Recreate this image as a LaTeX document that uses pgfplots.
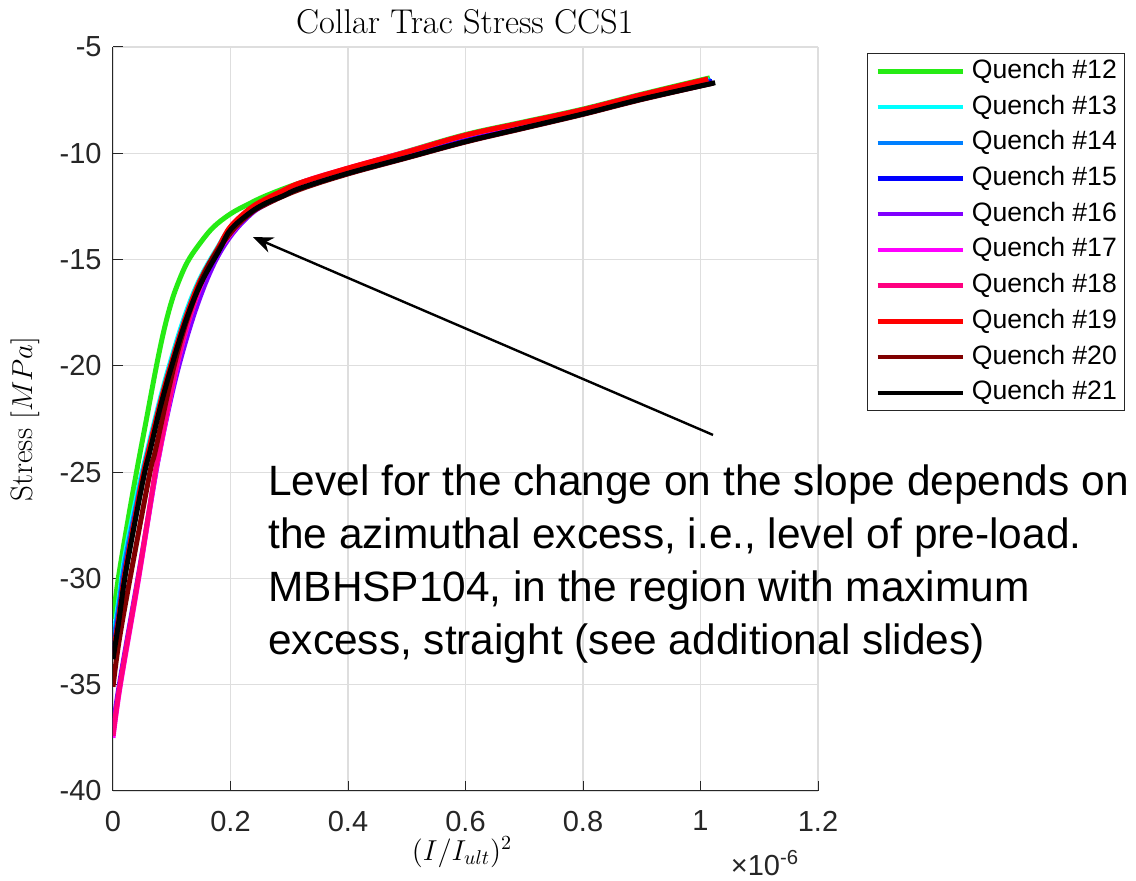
\documentclass[border=0pt]{standalone}
\usepackage{pgfplots}
\pgfplotsset{compat=1.18}
\usepackage{fontspec}
\usetikzlibrary{arrows.meta}
\newfontfamily\arial{Liberation Sans}

% quench colours
\definecolor{q12}{RGB}{38,235,20}
\definecolor{q13}{RGB}{0,255,255}
\definecolor{q14}{RGB}{0,128,255}
\definecolor{q15}{RGB}{0,0,255}
\definecolor{q16}{RGB}{128,0,255}
\definecolor{q17}{RGB}{255,0,255}
\definecolor{q18}{RGB}{255,0,128}
\definecolor{q19}{RGB}{255,0,0}
\definecolor{q20}{RGB}{128,0,0}
\definecolor{q21}{RGB}{0,0,0}

\begin{document}
\begin{tikzpicture}
\useasboundingbox (0,0) rectangle (568pt,440.5pt);
\begin{axis}[
  at={(56.5pt,45pt)}, anchor=south west,
  scale only axis, width=352.5pt, height=372pt,
  xmin=0, xmax=1.2, ymin=-40, ymax=-5,
  xtick={0,0.2,0.4,0.6,0.8,1,1.2},
  xticklabels={0,0.2,0.4,0.6,0.8,1,1.2},
  ytick={-40,-35,-30,-25,-20,-15,-10,-5},
  yticklabels={-40,-35,-30,-25,-20,-15,-10,-5},
  axis x line*=bottom, axis y line*=left,
  axis line style={draw=black!85, line width=0.5pt},
  tick align=inside, major tick length=5pt,
  tick style={draw=black!85, line width=0.5pt},
  grid=major, grid style={draw=black!13, line width=0.6pt},
  ticklabel style={font=\arial\fontsize{14.5}{17}\selectfont, text=black!85},
  xticklabel style={anchor=north, inner sep=0pt, yshift=-9.8pt},
  yticklabel style={anchor=east, inner sep=0pt, xshift=-5.5pt},
  title={Collar Trac Stress CCS1},
  every axis title/.style={at={(axis description cs:0.499,1.0336)}, anchor=center, font=\fontsize{17.2}{20}\selectfont},
  xlabel={$(I/I_{ult})^2$},
  xlabel style={at={(axis description cs:0.495,-0.082)}, anchor=center, font=\fontsize{14}{17}\selectfont},
  ylabel={Stress $[MPa]$},
  ylabel style={at={(axis description cs:-0.1248,0.5)}, anchor=center, font=\fontsize{15.5}{18}\selectfont},
  legend style={at={(1.0695,0.992)}, anchor=north west, draw=black!85, line width=0.5pt,
    fill=white, font=\arial\fontsize{13.3}{15}\selectfont, inner xsep=4pt, inner ysep=3pt,
    row sep=5.85pt, column sep=3.5pt,
    nodes={inner sep=0pt, text height=9.5pt, text depth=2.5pt}},
  legend cell align=left,
  legend image code/.code={\draw[#1, line width=2.2pt] (0pt,0pt) -- (42.5pt,0pt);},
  every axis plot/.append style={line width=2.5pt, smooth, tension=0.6},
]
% Quench #12
\addplot[q12] coordinates {(0,-31.9) (0.009,-30.0) (0.024,-27.5) (0.040,-25.0) (0.057,-22.5) (0.074,-20.0) (0.087,-18.3) (0.100,-16.95) (0.113,-15.95) (0.127,-15.1) (0.145,-14.35) (0.170,-13.5) (0.200,-12.85) (0.230,-12.4) (0.262,-11.98) (0.320,-11.38) (0.403,-10.72) (0.500,-9.92) (0.600,-9.12) (0.700,-8.52) (0.800,-7.92) (0.900,-7.22) (1.016,-6.45)};
\addlegendentry{Quench \#12}
% Quench #13
\addplot[q13] coordinates {(0,-32.9) (0.010,-31.0) (0.020,-29.0) (0.040,-26.2) (0.054,-24.5) (0.080,-21.6) (0.098,-19.8) (0.123,-17.6) (0.148,-15.9) (0.180,-14.35) (0.200,-13.5) (0.233,-12.65) (0.260,-12.2) (0.318,-11.45) (0.400,-10.75) (0.500,-10.0) (0.600,-9.2) (0.700,-8.6) (0.800,-8.0) (0.900,-7.3) (1.015,-6.55)};
\addlegendentry{Quench \#13}
% Quench #14
\addplot[q14] coordinates {(0,-33.2) (0.010,-31.3) (0.020,-29.3) (0.040,-26.5) (0.054,-24.7) (0.080,-21.8) (0.099,-19.9) (0.124,-17.7) (0.149,-16.0) (0.181,-14.4) (0.200,-13.55) (0.233,-12.7) (0.260,-12.25) (0.318,-11.5) (0.400,-10.8) (0.500,-10.05) (0.600,-9.25) (0.700,-8.65) (0.800,-8.05) (0.900,-7.35) (1.018,-6.58)};
\addlegendentry{Quench \#14}
% Quench #15
\addplot[q15] coordinates {(0,-33.5) (0.010,-31.7) (0.020,-29.7) (0.037,-27.2) (0.054,-24.9) (0.080,-21.9) (0.100,-19.95) (0.125,-17.75) (0.150,-16.05) (0.182,-14.45) (0.200,-13.6) (0.233,-12.75) (0.260,-12.3) (0.318,-11.55) (0.400,-10.85) (0.500,-10.1) (0.600,-9.35) (0.700,-8.7) (0.800,-8.1) (0.900,-7.4) (1.020,-6.62)};
\addlegendentry{Quench \#15}
% Quench #16
\addplot[q16] coordinates {(0,-37.0) (0.012,-34.8) (0.043,-29.9) (0.073,-25.0) (0.090,-22.6) (0.112,-20.0) (0.140,-17.4) (0.170,-15.3) (0.200,-13.9) (0.233,-12.9) (0.260,-12.4) (0.318,-11.65) (0.400,-10.95) (0.500,-10.2) (0.600,-9.45) (0.700,-8.8) (0.800,-8.15) (0.900,-7.45) (1.020,-6.7)};
\addlegendentry{Quench \#16}
% Quench #17
\addplot[q17] coordinates {(0,-37.5) (0.012,-35.1) (0.043,-30.1) (0.072,-25.1) (0.079,-24.1) (0.108,-20.1) (0.135,-17.35) (0.165,-15.25) (0.200,-13.8) (0.233,-12.8) (0.260,-12.25) (0.318,-11.45) (0.400,-10.72) (0.500,-9.95) (0.600,-9.17) (0.700,-8.57) (0.800,-7.97) (0.900,-7.27) (1.013,-6.56)};
\addlegendentry{Quench \#17}
% Quench #18
\addplot[q18] coordinates {(0,-37.4) (0.012,-35.0) (0.043,-30.0) (0.072,-25.0) (0.079,-24.0) (0.108,-20.0) (0.135,-17.3) (0.165,-15.2) (0.200,-13.75) (0.233,-12.75) (0.260,-12.2) (0.318,-11.4) (0.400,-10.7) (0.500,-9.93) (0.600,-9.15) (0.700,-8.55) (0.800,-7.95) (0.900,-7.25) (1.013,-6.55)};
\addlegendentry{Quench \#18}
% Quench #19
\addplot[q19] coordinates {(0,-33.6) (0.010,-31.8) (0.020,-29.8) (0.037,-27.2) (0.053,-24.9) (0.080,-21.8) (0.098,-20.0) (0.123,-17.8) (0.148,-16.0) (0.180,-14.4) (0.200,-13.45) (0.233,-12.6) (0.260,-12.15) (0.290,-11.75) (0.318,-11.4) (0.400,-10.7) (0.500,-9.95) (0.600,-9.15) (0.700,-8.55) (0.800,-7.95) (0.900,-7.25) (1.013,-6.5)};
\addlegendentry{Quench \#19}
% Quench #20
\addplot[q20] coordinates {(0,-35.1) (0.010,-33.0) (0.029,-30.0) (0.063,-25.0) (0.072,-24.0) (0.104,-20.0) (0.130,-17.5) (0.160,-15.4) (0.200,-13.75) (0.233,-12.85) (0.260,-12.4) (0.318,-11.7) (0.400,-10.97) (0.500,-10.22) (0.600,-9.47) (0.700,-8.82) (0.800,-8.17) (0.900,-7.47) (1.022,-6.7)};
\addlegendentry{Quench \#20}
% Quench #21
\addplot[q21] coordinates {(0,-33.8) (0.010,-32.0) (0.020,-30.0) (0.037,-27.4) (0.054,-25.0) (0.063,-24.0) (0.080,-22.0) (0.100,-20.0) (0.125,-17.8) (0.150,-16.1) (0.182,-14.5) (0.200,-13.6) (0.233,-12.8) (0.260,-12.35) (0.290,-12.0) (0.318,-11.65) (0.400,-10.94) (0.500,-10.2) (0.600,-9.45) (0.700,-8.8) (0.800,-8.15) (0.900,-7.45) (1.025,-6.68)};
\addlegendentry{Quench \#21}

% arrow pointing at the knee of the curves
\draw[black, line width=1.2pt, -{Stealth[length=10pt, width=8pt]}]
  (axis cs:1.0213,-23.25) -- (axis cs:0.2383,-13.94);
\end{axis}
% scale factor of the x axis
\node[anchor=center, inner sep=0pt, font=\arial\fontsize{14.5}{17}\selectfont, text=black!85]
  at (382.5pt,9pt) {×10\textsuperscript{-6}};
\node[anchor=north west, align=left, inner sep=0pt, font=\arial\fontsize{21.2}{26.5}\selectfont]
  at (134pt,208.5pt) {Level for the change on the slope depends on\\
  the azimuthal excess, i.e., level of pre-load.\\
  MBHSP104, in the region with maximum\\
  excess, straight (see additional slides)};
\end{tikzpicture}
\end{document}
